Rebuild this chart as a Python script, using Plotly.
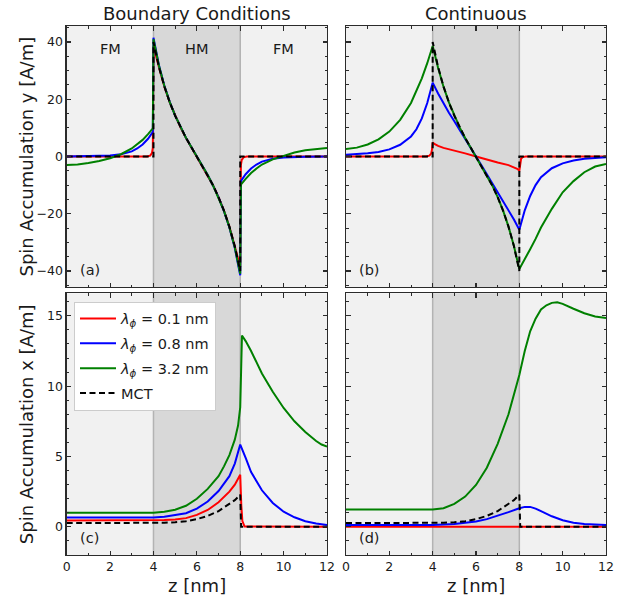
import plotly.graph_objects as go

# ---------------- data ----------------
Z_RANGE = [0, 12]
Y_TOP_RANGE = [-45.6, 45.6]
Y_BOT_RANGE = [-2.0, 16.6]
X_TICKS = [0, 2, 4, 6, 8, 10, 12]
Y_TOP_TICKS = [-40, -20, 0, 20, 40]
Y_BOT_TICKS = [0, 5, 10, 15]
HM_START, HM_END = 4, 8

SERIES_NAMES = ["<i>λ</i><sub><i>ϕ</i></sub> = 0.1 nm",
                "<i>λ</i><sub><i>ϕ</i></sub> = 0.8 nm",
                "<i>λ</i><sub><i>ϕ</i></sub> = 3.2 nm",
                "MCT"]

# MCT (same in both y panels)
MCT_Y_Z = [0, 4.0, 4.0, 4.25, 4.5, 4.75, 5.0, 5.25, 5.5, 5.75, 6.0, 6.25, 6.5, 6.75, 7.0, 7.25, 7.5, 7.75, 8.0, 8.0, 12]
MCT_Y_V = [0, 0, 40, 31.3, 24.5, 18.9, 14.2, 10.1, 6.5, 3.2, 0, -3.2, -6.5, -10.1, -14.2, -18.9, -24.5, -31.3, -40, 0, 0]
# MCT (same in both x panels)
MCT_X_Z = [0, 4.0, 4.5, 5.0, 5.5, 6.0, 6.5, 7.0, 7.5, 7.75, 8.0, 8.04, 12]
MCT_X_V = [0.27, 0.27, 0.29, 0.33, 0.4, 0.55, 0.78, 1.12, 1.6, 1.9, 2.28, 0, 0]

# panel (a)  boundary conditions, y component
A_RED_Z = [0, 3.7, 3.85, 3.93, 3.97, 4.0, 4.25, 4.5, 4.75, 5.0, 5.25, 5.5, 5.75, 6.0, 6.25, 6.5, 6.75, 7.0, 7.25, 7.5, 7.75, 8.0, 8.03, 8.07, 8.15, 8.3, 12]
A_RED_V = [0, 0, 0.3, 1.2, 3.0, 38.5, 31.3, 24.5, 18.9, 14.2, 10.1, 6.5, 3.2, 0, -3.2, -6.5, -10.1, -14.2, -18.9, -24.5, -31.3, -38.5, -3.0, -1.2, -0.3, 0, 0]
A_BLUE_Z = [0, 1, 1.5, 2, 2.5, 3, 3.25, 3.5, 3.75, 3.9, 3.97,
            4.0, 4.25, 4.5, 4.75, 5.0, 5.25, 5.5, 5.75, 6.0, 6.25, 6.5, 6.75, 7.0, 7.25, 7.5, 7.75, 8.0,
            8.03, 8.1, 8.25, 8.5, 8.75, 9, 9.5, 10, 10.5, 11, 12]
A_BLUE_V = [0, 0.05, 0.15, 0.35, 0.8, 1.8, 2.8, 4.2, 6.2, 7.8, 8.6,
            41.5, 32.0, 24.8, 19.1, 14.3, 10.2, 6.5, 3.2, 0, -3.2, -6.5, -10.2, -14.3, -19.1, -24.8, -32.0, -41.5,
            -8.6, -7.8, -6.2, -4.2, -2.8, -1.8, -0.8, -0.35, -0.15, -0.05, 0]
A_GREEN_Z = [0, 0.5, 1, 1.5, 2, 2.5, 3, 3.25, 3.5, 3.75, 3.97,
             4.0, 4.25, 4.5, 4.75, 5.0, 5.25, 5.5, 5.75, 6.0, 6.25, 6.5, 6.75, 7.0, 7.25, 7.5, 7.75, 8.0,
             8.03, 8.25, 8.5, 8.75, 9, 9.5, 10, 10.5, 11, 11.5, 12]
A_GREEN_V = [-3.0, -2.8, -2.3, -1.6, -0.6, 0.8, 2.8, 4.2, 5.8, 7.8, 9.8,
             41.0, 31.8, 24.7, 19.0, 14.3, 10.2, 6.5, 3.2, 0, -3.2, -6.5, -10.2, -14.3, -19.0, -24.7, -31.8, -41.0,
             -9.8, -7.8, -5.8, -4.2, -2.8, -1.0, 0.3, 1.4, 2.2, 2.7, 3.0]

# panel (b)  continuous, y component
B_RED_Z = [0, 3.7, 3.85, 3.93, 3.97, 4.0, 4.1, 4.25, 4.5, 5.0, 5.5, 6.0, 6.5, 7.0, 7.5, 7.75, 7.9, 8.0, 8.03, 8.08, 8.15, 8.3, 12]
B_RED_V = [0, 0, 0.3, 1.0, 2.5, 4.9, 4.3, 3.7, 3.0, 2.1, 1.1, 0, -1.1, -2.1, -3.0, -3.7, -4.3, -4.9, -2.5, -0.8, -0.2, 0, 0]
B_BLUE_Z = [0, 0.5, 1, 1.5, 2, 2.5, 3, 3.25, 3.5, 3.75, 4.0,
            4.25, 4.5, 4.75, 5.0, 5.25, 5.5, 5.75, 6.0, 6.25, 6.5, 6.75, 7.0, 7.25, 7.5, 7.75, 8.0,
            8.1, 8.25, 8.5, 8.75, 9, 9.5, 10, 10.5, 11, 11.5, 12]
B_BLUE_V = [0.6, 0.8, 1.1, 1.6, 2.5, 4.1, 7.0, 9.5, 13.3, 18.7, 25.8,
            22.0, 18.5, 15.3, 12.3, 9.3, 6.2, 3.1, 0, -3.1, -6.2, -9.3, -12.3, -15.3, -18.5, -22.0, -25.6,
            -22.5, -18.8, -13.8, -10.0, -7.2, -4.1, -2.4, -1.4, -0.8, -0.5, -0.3]
B_GREEN_Z = [0, 0.5, 1, 1.5, 2, 2.5, 3, 3.25, 3.5, 3.75, 4.0,
             4.25, 4.5, 4.75, 5.0, 5.25, 5.5, 5.75, 6.0, 6.25, 6.5, 6.75, 7.0, 7.25, 7.5, 7.75, 8.0,
             8.25, 8.5, 8.75, 9, 9.5, 10, 10.5, 11, 11.5, 12]
B_GREEN_V = [2.6, 3.1, 4.2, 6.0, 8.7, 12.8, 18.7, 22.8, 27.3, 32.6, 38.6,
             31.0, 24.4, 18.9, 14.2, 10.1, 6.5, 3.2, 0, -3.2, -6.5, -10.1, -14.2, -18.9, -24.5, -31.3, -39.3,
             -36.0, -32.4, -28.8, -24.8, -18.3, -12.5, -8.6, -5.5, -3.5, -2.6]

# panel (c)  boundary conditions, x component
C_RED_Z = [0, 4, 4.5, 5, 5.5, 6, 6.5, 7, 7.5, 7.75, 7.9, 8.0, 8.05, 8.1, 8.2, 12]
C_RED_V = [0.45, 0.45, 0.48, 0.53, 0.62, 0.85, 1.2, 1.75, 2.5, 3.0, 3.4, 3.7, 1.5, 0.4, 0.02, 0]
C_BLUE_Z = [0, 4, 4.5, 5, 5.5, 6, 6.5, 7, 7.5, 7.75, 8, 8.25, 8.5, 9, 9.5, 10, 10.5, 11, 11.5, 12]
C_BLUE_V = [0.66, 0.66, 0.72, 0.82, 0.97, 1.3, 1.8, 2.55, 3.6, 4.5, 5.85, 4.9, 3.9, 2.6, 1.7, 1.08, 0.68, 0.4, 0.24, 0.14]
C_GREEN_Z = [0, 4, 4.5, 5, 5.5, 6, 6.5, 7, 7.25, 7.5, 7.75, 7.9, 8.0, 8.08, 8.25, 8.5, 9, 9.5, 10, 10.5, 11, 11.5, 11.75, 12]
C_GREEN_V = [1.0, 1.0, 1.08, 1.22, 1.5, 2.0, 2.7, 3.6, 4.3, 5.1, 6.2, 7.2, 8.5, 13.6, 13.2, 12.5, 10.9, 9.6, 8.45, 7.5, 6.75, 6.1, 5.85, 5.7]

# panel (d)  continuous, x component
D_RED_Z = [0, 4, 8, 12]
D_RED_V = [0, 0, 0, 0]
D_BLUE_Z = [0, 4, 5, 5.5, 6, 6.5, 7, 7.5, 8, 8.25, 8.5, 8.75, 9, 9.5, 10, 10.5, 11, 11.5, 12]
D_BLUE_V = [0.14, 0.14, 0.2, 0.27, 0.38, 0.55, 0.78, 1.05, 1.32, 1.42, 1.42, 1.3, 1.12, 0.75, 0.47, 0.3, 0.2, 0.15, 0.13]
D_GREEN_Z = [0, 4, 4.5, 5, 5.5, 6, 6.5, 7, 7.5, 8, 8.25, 8.5, 8.75, 9, 9.25, 9.5, 9.75, 10, 10.5, 11, 11.5, 12]
D_GREEN_V = [1.23, 1.23, 1.32, 1.63, 2.15, 2.98, 4.2, 5.9, 8.0, 10.8, 12.5, 13.9, 14.8, 15.45, 15.75, 15.92, 15.96, 15.85, 15.5, 15.18, 14.95, 14.85]

PANEL_LABELS = ["(a)", "(b)", "(c)", "(d)"]
COLUMN_TITLES = ["Boundary Conditions", "Continuous"]
REGION_LABELS = ["FM", "HM", "FM"]
REGION_X = [2, 6, 10]
X_TITLE = "z [nm]"
Y_TITLES = ["Spin Accumulation y [A/m]", "Spin Accumulation x [A/m]"]

# ---------------- styling ----------------
COLORS = ["#ff0000", "#0000ff", "#008000", "#000000"]
FONT = "DejaVu Sans"
TXT = "#1a1a1a"
FRAME = "#2b2b2b"
W, H = 638, 600
COL_X = [(66.7, 327.0), (346.0, 606.0)]
ROW_Y = [(26.0, 287.0), (293.3, 555.0)]


def px_dom(a, b):
    return [a / W, b / W]


def py_dom(top, bot):
    return [1 - bot / H, 1 - top / H]


fig = go.Figure()

panels = [
    (1, [(A_RED_Z, A_RED_V), (A_BLUE_Z, A_BLUE_V), (A_GREEN_Z, A_GREEN_V), (MCT_Y_Z, MCT_Y_V)]),
    (2, [(B_RED_Z, B_RED_V), (B_BLUE_Z, B_BLUE_V), (B_GREEN_Z, B_GREEN_V), (MCT_Y_Z, MCT_Y_V)]),
    (3, [(C_RED_Z, C_RED_V), (C_BLUE_Z, C_BLUE_V), (C_GREEN_Z, C_GREEN_V), (MCT_X_Z, MCT_X_V)]),
    (4, [(D_RED_Z, D_RED_V), (D_BLUE_Z, D_BLUE_V), (D_GREEN_Z, D_GREEN_V), (MCT_X_Z, MCT_X_V)]),
]

for idx, series in panels:
    xr = "x" if idx == 1 else f"x{idx}"
    yr = "y" if idx == 1 else f"y{idx}"
    for k, (zz, vv) in enumerate(series):
        fig.add_trace(go.Scatter(
            x=zz, y=vv, mode="lines", xaxis=xr, yaxis=yr,
            name=SERIES_NAMES[k], legendgroup=f"g{k}",
            showlegend=(idx == 3), hoverinfo="skip",
            line=dict(color=COLORS[k], width=2,
                      dash="6px,3.5px" if k == 3 else "solid"),
        ))

layout = dict(
    width=W, height=H,
    margin=dict(l=0, r=0, t=0, b=0, autoexpand=False),
    paper_bgcolor="white",
    plot_bgcolor="#f1f1f1",
    font=dict(family=FONT, size=12, color=TXT),
    showlegend=True,
    legend=dict(x=74 / W, y=1 - 301.5 / H, xanchor="left", yanchor="top",
                bgcolor="white", bordercolor="#cccccc", borderwidth=1,
                font=dict(family=FONT, size=14.5, color=TXT),
                tracegroupgap=3, itemwidth=36),
)

shapes = []
annotations = []
for idx in range(1, 5):
    col = (idx - 1) % 2
    row = (idx - 1) // 2
    xname = "xaxis" if idx == 1 else f"xaxis{idx}"
    yname = "yaxis" if idx == 1 else f"yaxis{idx}"
    yid = "y" if idx == 1 else f"y{idx}"
    xid = "x" if idx == 1 else f"x{idx}"
    top = row == 0
    layout[xname] = dict(
        domain=px_dom(*COL_X[col]), anchor=yid, range=Z_RANGE, automargin=False,
        tickmode="array", tickvals=X_TICKS, showticklabels=not top,
        ticks="inside", ticklen=4.5, tickwidth=1.1, tickcolor=FRAME,
        minor=dict(dtick=1, ticks="inside", ticklen=2.5, tickwidth=1, tickcolor=FRAME),
        showline=True, linecolor=FRAME, linewidth=1.3, mirror="allticks",
        showgrid=False, zeroline=False,
        tickfont=dict(size=12.5, family=FONT, color=TXT),
    )
    layout[yname] = dict(
        domain=py_dom(*ROW_Y[row]), anchor=xid, automargin=False,
        range=Y_TOP_RANGE if top else Y_BOT_RANGE,
        tickmode="array", tickvals=Y_TOP_TICKS if top else Y_BOT_TICKS,
        showticklabels=(col == 0),
        ticks="inside", ticklen=4.5, tickwidth=1.1, tickcolor=FRAME,
        minor=dict(dtick=5 if top else 1, ticks="inside", ticklen=2.5, tickwidth=1, tickcolor=FRAME),
        showline=True, linecolor=FRAME, linewidth=1.3, mirror="allticks",
        showgrid=False, zeroline=False,
        tickfont=dict(size=12.5, family=FONT, color=TXT),
    )
    shapes.append(dict(type="rect", xref=xid, yref=f"{yid} domain",
                       x0=HM_START, x1=HM_END, y0=0, y1=1,
                       fillcolor="#d8d8d8", line=dict(width=0), layer="below"))
    for xv in (HM_START, HM_END):
        shapes.append(dict(type="line", xref=xid, yref=f"{yid} domain",
                           x0=xv, x1=xv, y0=0, y1=1,
                           line=dict(color="#b3b3b3", width=1.5), layer="below"))
    annotations.append(dict(text=PANEL_LABELS[idx - 1], xref=f"{xid} domain", yref=f"{yid} domain",
                            x=0.044, y=0.026, xanchor="left", yanchor="bottom", showarrow=False,
                            font=dict(size=14.5, family=FONT, color=TXT)))

for i, t in enumerate(COLUMN_TITLES):
    cx = (COL_X[i][0] + COL_X[i][1]) / 2 / W
    annotations.append(dict(text=t, xref="paper", yref="paper", x=cx, y=1 - 13 / H,
                            xanchor="center", yanchor="middle", showarrow=False,
                            font=dict(size=18, family=FONT, color=TXT)))
    annotations.append(dict(text=X_TITLE, xref="paper", yref="paper", x=cx, y=1 - 585 / H,
                            xanchor="center", yanchor="middle", showarrow=False,
                            font=dict(size=18, family=FONT, color=TXT)))

for j, t in enumerate(Y_TITLES):
    cy = (ROW_Y[j][0] + ROW_Y[j][1]) / 2
    annotations.append(dict(text=t, xref="paper", yref="paper",
                            x=26 / W, y=1 - cy / H, textangle=-90, xanchor="center", yanchor="middle",
                            showarrow=False, font=dict(size=18, family=FONT, color=TXT)))

for lbl, xv in zip(REGION_LABELS, REGION_X):
    annotations.append(dict(text=lbl, xref="x", yref="y", x=xv, y=37.6,
                            xanchor="center", yanchor="middle", showarrow=False,
                            font=dict(size=14.5, family=FONT, color=TXT)))

layout["shapes"] = shapes
layout["annotations"] = annotations
fig.update_layout(**layout)
fig.write_html(
    "out.html",
    config={"displayModeBar": False, "staticPlot": True},
    post_script="document.body.style.margin='0';document.body.style.padding='0';document.body.style.overflow='hidden';",
)
